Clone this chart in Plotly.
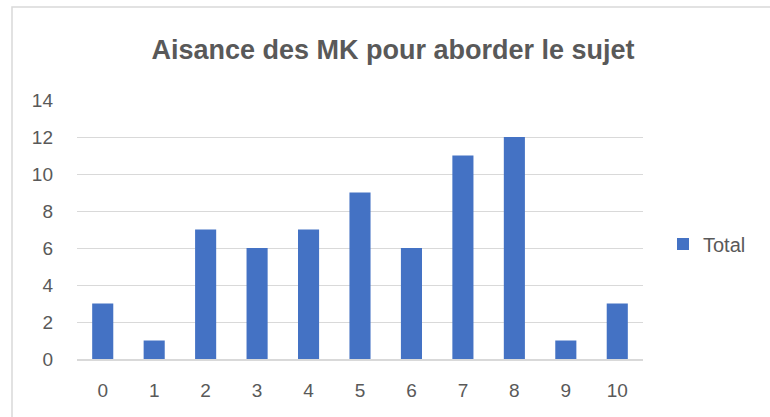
import plotly.graph_objects as go

categories = ["0", "1", "2", "3", "4", "5", "6", "7", "8", "9", "10"]
totals = [3, 1, 7, 6, 7, 9, 6, 11, 12, 1, 3]
y_ticks = [0, 2, 4, 6, 8, 10, 12, 14]

txt = "#595959"
fig = go.Figure()
fig.add_trace(go.Bar(x=categories, y=totals, name="Total", marker_color="#4472C4",
                     marker_line_width=0))

fig.update_layout(
    width=770, height=417,
    margin=dict(l=77, r=127, t=100, b=58),
    paper_bgcolor="white", plot_bgcolor="white",
    font=dict(family="Liberation Sans, Arial, sans-serif", color=txt, size=19),
    title=dict(text="<b>Aisance des MK pour aborder le sujet</b>",
               x=393/770, xanchor="center", y=1-50/417, yanchor="middle",
               font=dict(size=27, color=txt)),
    bargap=0.59,
    showlegend=True,
    legend=dict(x=(663-77)/566, xref="paper", xanchor="left",
                y=(359-244)/259, yanchor="middle",
                font=dict(size=20, color=txt), itemwidth=30),
    shapes=[dict(type="rect", xref="paper", yref="paper",
                 x0=-65/566, x1=(790-77)/566, y0=-(440-359)/259, y1=(359-7)/259,
                 line=dict(color="#d9d9d9", width=1.5), layer="below")],
)
fig.update_xaxes(type="category", showgrid=False, showline=True, linecolor="#d9d9d9",
                 linewidth=1.5, ticks="", ticklabelstandoff=13, tickfont=dict(size=19))
fig.update_yaxes(range=[0, 14], tickvals=y_ticks, showgrid=True, gridcolor="#d9d9d9",
                 gridwidth=1, zeroline=False, showline=False, ticks="",
                 ticklabelstandoff=23, tickfont=dict(size=19))

fig.write_html("out.html", config={"displayModeBar": False},
               post_script="document.body.style.margin='0';document.body.style.overflow='hidden';")
